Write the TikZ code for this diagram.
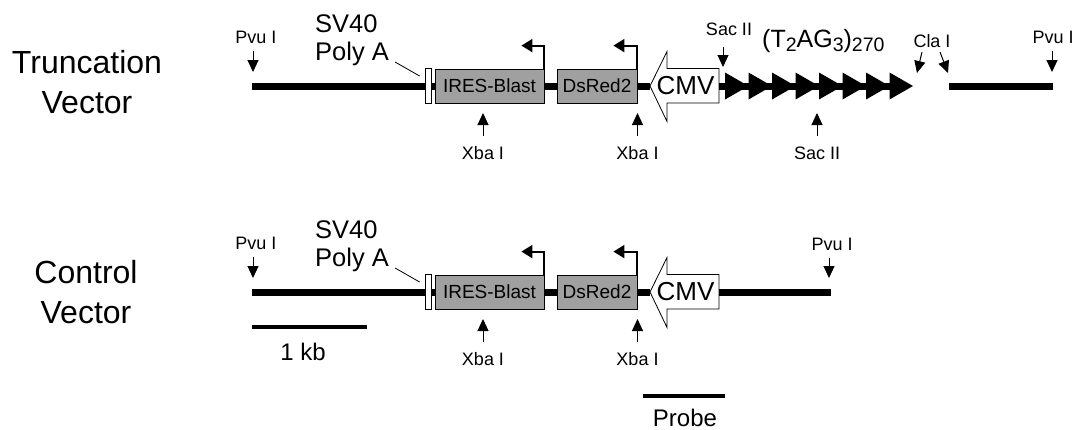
\documentclass[tikz,border=0pt]{standalone}
\usepackage{fontspec}
\setmainfont{Liberation Sans}
\usetikzlibrary{arrows.meta,calc}
\pgfdeclarelayer{background}
\pgfsetlayers{background,main}
\definecolor{boxgray}{RGB}{160,160,160}
\newcommand\fs[1]{\fontsize{#1}{#1}\selectfont}
\newcommand\subtx[1]{\raisebox{-4pt}{\fs{19.5}#1}}
\newcommand\commonrow{%
  \node[lab,anchor=base] (pvu1) at (256,-43) {Pvu I};
  \coordinate (pvu1tip) at (253,-14);
  \draw[site] ($(pvu1.base)+(-3,8)$) -- (pvu1tip);
  \node[big,font=\fs{25.5},anchor=base west] (sv) at (315,-54) {SV40};
  \node[big,font=\fs{25.5},anchor=base west] (polya) at (315,-26) {Poly A};
  \node[pabox] (pa) at (428,0) {};
  \node[gene,minimum width=109pt] (ires) at (489.5,0) {IRES-Blast};
  \node[gene,minimum width=80pt] (dsred) at (597,0) {DsRed2};
  \coordinate (cmvtip) at (650,0);
  \coordinate (cmvtail) at (719,0);
  \draw[line width=0.8pt,fill=white] (719,-17.5) -- (719,17) -- (667,17) -- (667,35.5)
      -- (cmvtip) -- (667,-34.5) -- (667,-17.5) -- cycle;
  \node[inner sep=0pt,font=\fs{26}] (cmv) at (685.5,0) {CMV};
  \coordinate (dnastart) at (252,0);
  \draw[dna] (dnastart) -- (pa.west);
  \draw[dna] (pa.east) -- (ires.west);
  \draw[dna] (ires.east) -- (dsred.west);
  \draw[dna] (dsred.east) -- (cmvtip);
  \draw[prom] (ires.north east) -- ++(0,-23) -- ++(-23,0);
  \draw[prom] (dsred.north east) -- ++(0,-23) -- ++(-24,0);
  \node[lab,anchor=base] (xba1) at (483,73) {Xba I};
  \coordinate (xba1tip) at (483,27);
  \draw[site] ($(xba1.base)+(0,-23)$) -- (xba1tip);
  \node[lab,anchor=base] (xba2) at (637.5,73) {Xba I};
  \coordinate (xba2tip) at (637.5,27);
  \draw[site] ($(xba2.base)+(0,-23)$) -- (xba2tip);
  \draw[line width=0.8pt] ($(polya.base east)+(6,2)$) -- ($(pa.west)+(-5,-10)$);
}
\begin{document}
\begin{tikzpicture}[x=1pt,y=-1pt,
  dna/.style={line width=7pt},
  lab/.style={inner sep=0pt,font=\fs{18}},
  big/.style={inner sep=0pt,font=\fs{24}},
  site/.style={line width=1pt,-{Triangle[length=12pt,width=11pt]}},
  prom/.style={line width=2pt,-{Triangle[length=11pt,width=13pt]}},
  gene/.style={draw,line width=0.8pt,fill=boxgray,minimum height=34pt,inner sep=0pt,font=\fs{19}},
  pabox/.style={draw,line width=0.8pt,fill=white,minimum width=6pt,minimum height=35pt,inner sep=0pt},
  bar/.style={line width=4.5pt},
  title/.style={inner sep=0pt,align=center,anchor=north,font=\fontsize{32}{40}\selectfont}]
\useasboundingbox (0,0) rectangle (1076,429);
\node[title] (trunc) at (87,50) {Truncation\\Vector};
\node[title] (ctrl) at (86,260) {Control\\Vector};
% Truncation vector
\begin{scope}[shift={(0,86)},name prefix=t-]
  \commonrow
  \coordinate (telend) at (905,0);
  \draw[dna] (cmvtail) -- (telend);
  \foreach \i in {0,...,7}
    \fill (725+23.5*\i,-13.5) -- ++(23.5,13.5) -- ++(-23.5,13.5) -- cycle;
  \node[lab,anchor=base] (sac1) at (729,-50.5) {Sac II};
  \coordinate (sac1tip) at (723,-19);
  \draw[site] ($(sac1.base)+(-6,11.5)$) -- (sac1tip);
  \node[big,font=\fs{25},anchor=base west] (rep) at (762,-39) {(T\subtx{2}AG\subtx{3})\subtx{270}};
  \node[lab,anchor=base] (cla) at (932,-39) {Cla I};
  \coordinate (cla1tip) at (917,-13);
  \coordinate (cla2tip) at (948,-13);
  \draw[site] ($(cla.base)+(-10,5)$) -- (cla1tip);
  \draw[site] ($(cla.base)+(8,5)$) -- (cla2tip);
  \coordinate (rstart) at (949,0);
  \coordinate (rend) at (1053,0);
  \draw[dna] (rstart) -- (rend);
  \node[lab,anchor=base] (pvu2) at (1053,-43) {Pvu I};
  \coordinate (pvu2tip) at (1052,-14);
  \draw[site] ($(pvu2.base)+(-1,8)$) -- (pvu2tip);
  \node[lab,anchor=base] (sac2) at (817,73) {Sac II};
  \coordinate (sac2tip) at (817,27);
  \draw[site] ($(sac2.base)+(0,-23)$) -- (sac2tip);
\end{scope}
% Control vector
\begin{scope}[shift={(0,292)},name prefix=c-]
  \commonrow
  \coordinate (lineend) at (831,0);
  \draw[dna] (cmvtail) -- (lineend);
  \node[lab,anchor=base] (pvu2) at (832,-42) {Pvu I};
  \coordinate (pvu2tip) at (829,-14);
  \draw[site] ($(pvu2.base)+(-3,8)$) -- (pvu2tip);
  \coordinate (kbL) at (252,35);
  \coordinate (kbR) at (367,35);
  \draw[bar] (kbL) -- (kbR);
  \node[big,anchor=base] (kb) at (303,68) {1 kb};
  \coordinate (prL) at (643,104);
  \coordinate (prR) at (725,104);
  \draw[bar] (prL) -- (prR);
  \node[big,anchor=base] (probe) at (685,134) {Probe};
\end{scope}
\end{tikzpicture}
\end{document}
